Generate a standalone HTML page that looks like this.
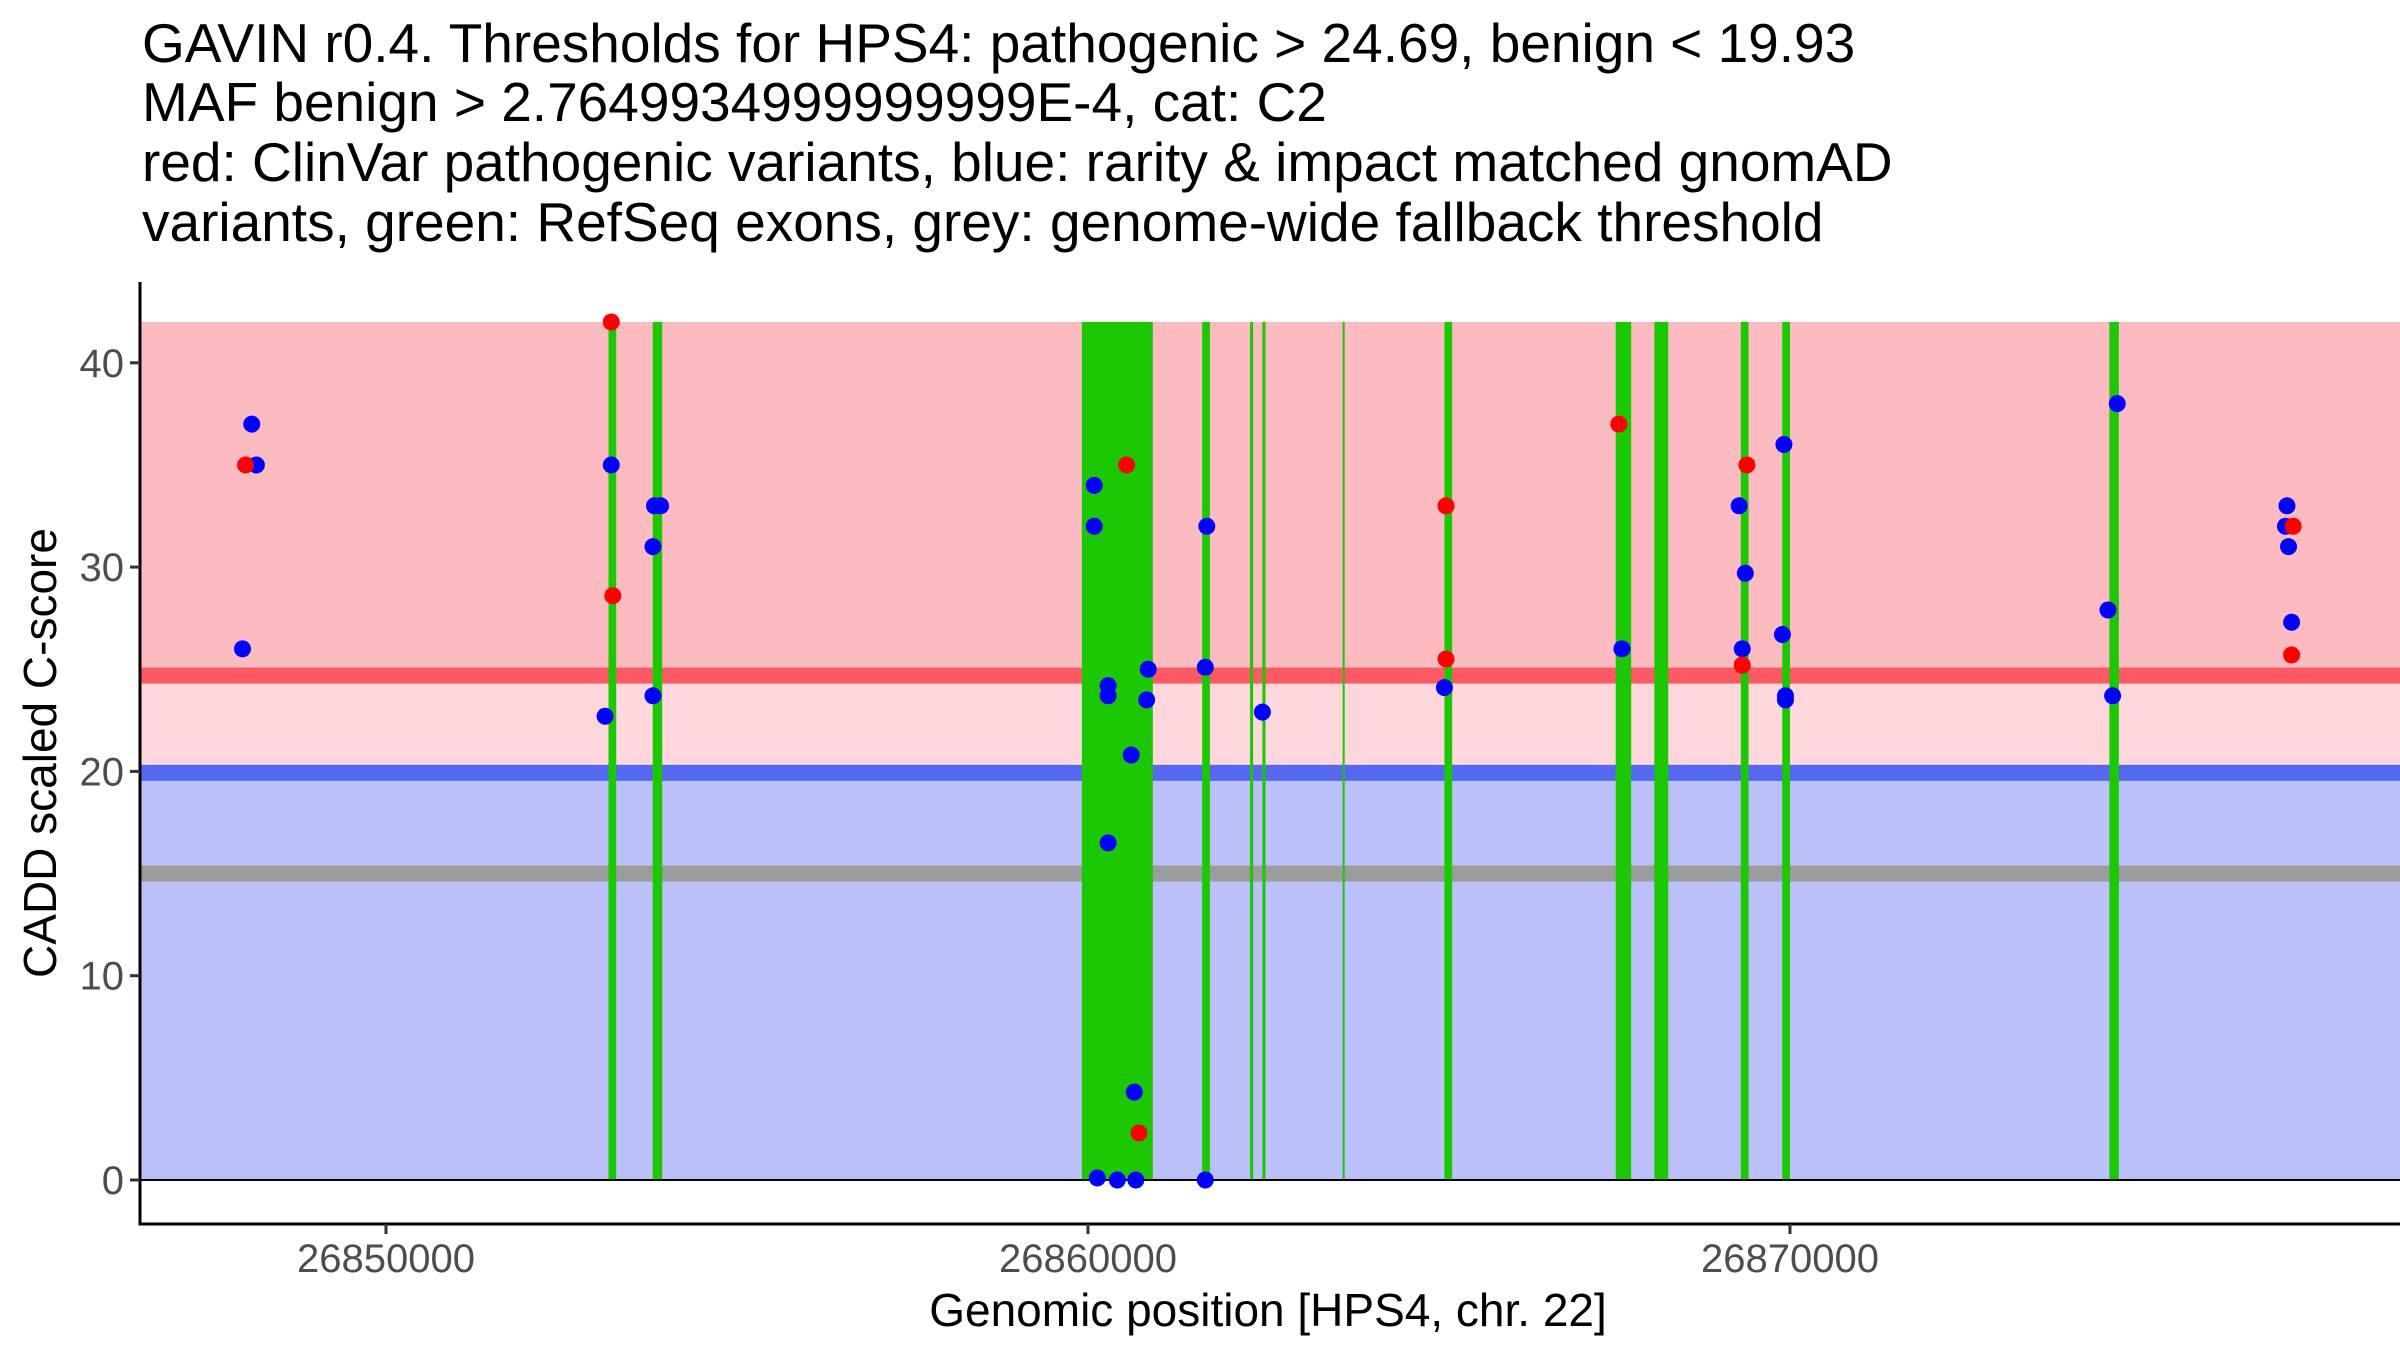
<!DOCTYPE html>
<html><head><meta charset="utf-8"><style>body{margin:0;background:#fff}svg{display:block}</style></head>
<body>
<svg id="chart" width="2400" height="1350" xmlns="http://www.w3.org/2000/svg" font-family="Liberation Sans, Arial, sans-serif">
<g font-size="55" fill="#000">
<text x="142" y="62">GAVIN r0.4. Thresholds for HPS4: pathogenic &gt; 24.69, benign &lt; 19.93</text>
<text x="142" y="121">MAF benign &gt; 2.7649934999999999E-4, cat: C2</text>
<text x="142" y="181">red: ClinVar pathogenic variants, blue: rarity &amp; impact matched gnomAD</text>
<text x="142" y="241">variants, green: RefSeq exons, grey: genome-wide fallback threshold</text>
</g>
<g id="plot"></g>
</svg>
<script>
const exonStarts=[26853170,26853800,26859913,26861627,26862309,26862485,26863628,26865078,26867518,26868068,26869300,26869890,26874550];
const exonEnds=[26853280,26853935,26860924,26861737,26862353,26862529,26863650,26865188,26867738,26868266,26869410,26870000,26874685];
const blueX=[26847956,26848088,26848154,26853209,26853121,26853825,26853912,26853803,26853803,26860089,26860089,26860287,26860287,26860858,26860836,26860616,26860287,26860660,26860133,26860418,26860682,26861671,26861693,26861671,26862485,26865078,26867606,26869276,26869364,26869320,26869914,26869892,26869936,26869936,26874662,26874530,26874596,26877080,26877058,26877102,26877146];
const blueY=[26,37,35,35,22.7,33,33,31,23.7,34,32,24.2,23.7,25,23.5,20.8,16.5,4.3,0.1,0,0,0,32,25.1,22.9,24.1,26,33,29.7,26,36,26.7,23.7,23.5,38,27.9,23.7,33,32,31,27.3];
const redX=[26848000,26853209,26853231,26860550,26860726,26865100,26865100,26867562,26869386,26869320,26877168,26877146];
const redY=[35,42,28.6,35,2.3,33,25.5,37,35,25.2,32,25.7];
const pathThr=24.69, benignThr=19.93, fallbackThr=15, maxScore=42;
const yTicks=[0,10,20,30,40];
const xTicks=[26850000,26860000,26870000];

const L=140,R=2400,B=1224;
const xMin=26846496,xMax=26878690;
const X=v=>L+(v-xMin)/(xMax-xMin)*(R-L);
const Y=v=>1180-v*20.43;
const g=document.getElementById('plot');
const NS='http://www.w3.org/2000/svg';
function mk(tag,a,p){const e=document.createElementNS(NS,tag);for(const k in a)e.setAttribute(k,a[k]);(p||g).appendChild(e);return e;}

let e;
e=mk('rect',{x:L,y:Y(maxScore),width:R-L,height:Y(pathThr)-Y(maxScore),fill:'#fcbbc0'});


e=mk('rect',{x:L,y:Y(pathThr),width:R-L,height:Y(benignThr)-Y(pathThr),fill:'#fdd7dc'});


e=mk('rect',{x:L,y:Y(benignThr),width:R-L,height:Y(0)-Y(benignThr),fill:'#bbc1f8'});


e=mk('rect',{x:L,y:Y(pathThr)-8,width:R-L,height:16,fill:'#fb5a64'});


e=mk('rect',{x:L,y:Y(benignThr)-8,width:R-L,height:16,fill:'#5469f0'});


e=mk('rect',{x:L,y:Y(fallbackThr)-8,width:R-L,height:16,fill:'#9c9c9c'});



for(let i=0;i<exonStarts.length;i++){
  const x1=X(exonStarts[i]),x2=X(exonEnds[i]);
  e=mk('rect',{x:x1,y:Y(maxScore),width:Math.max(2,x2-x1),height:Y(0)-Y(maxScore),fill:'#1cc704'});
  
  
}
e=mk('line',{x1:L,x2:R,y1:Y(0),y2:Y(0),stroke:'#000','stroke-width':2});



for(let i=0;i<blueX.length;i++){
  e=mk('circle',{cx:X(blueX[i]),cy:Y(blueY[i]),r:8.5,fill:'#0000ff'});
  
  
}
for(let i=0;i<redX.length;i++){
  e=mk('circle',{cx:X(redX[i]),cy:Y(redY[i]),r:8.5,fill:'#ff0000'});
  
  
}

e=mk('line',{x1:L,x2:L,y1:282,y2:B+1.5,stroke:'#000','stroke-width':3});


e=mk('line',{x1:L-1.5,x2:R,y1:B,y2:B,stroke:'#000','stroke-width':3});



for(const t of yTicks){
  e=mk('line',{x1:L-10,x2:L,y1:Y(t),y2:Y(t),stroke:'#333','stroke-width':3});
  
  
  e=mk('text',{x:L-16,y:Y(t)+14,'text-anchor':'end','font-size':40,fill:'#4d4d4d'});
  e.textContent=t;
  
  
}
for(const t of xTicks){
  e=mk('line',{x1:X(t),x2:X(t),y1:B,y2:B+10,stroke:'#333','stroke-width':3});
  
  
  e=mk('text',{x:X(t),y:1272,'text-anchor':'middle','font-size':40,fill:'#4d4d4d'});
  e.textContent=t;
  
  
}
e=mk('text',{x:1268,y:1326,'text-anchor':'middle','font-size':46,fill:'#000'});
e.textContent='Genomic position [HPS4, chr. 22]';


e=mk('text',{x:0,y:0,'text-anchor':'middle','font-size':46,fill:'#000',transform:'translate(56,753) rotate(-90)'});
e.textContent='CADD scaled C-score';


</script>
</body></html>
